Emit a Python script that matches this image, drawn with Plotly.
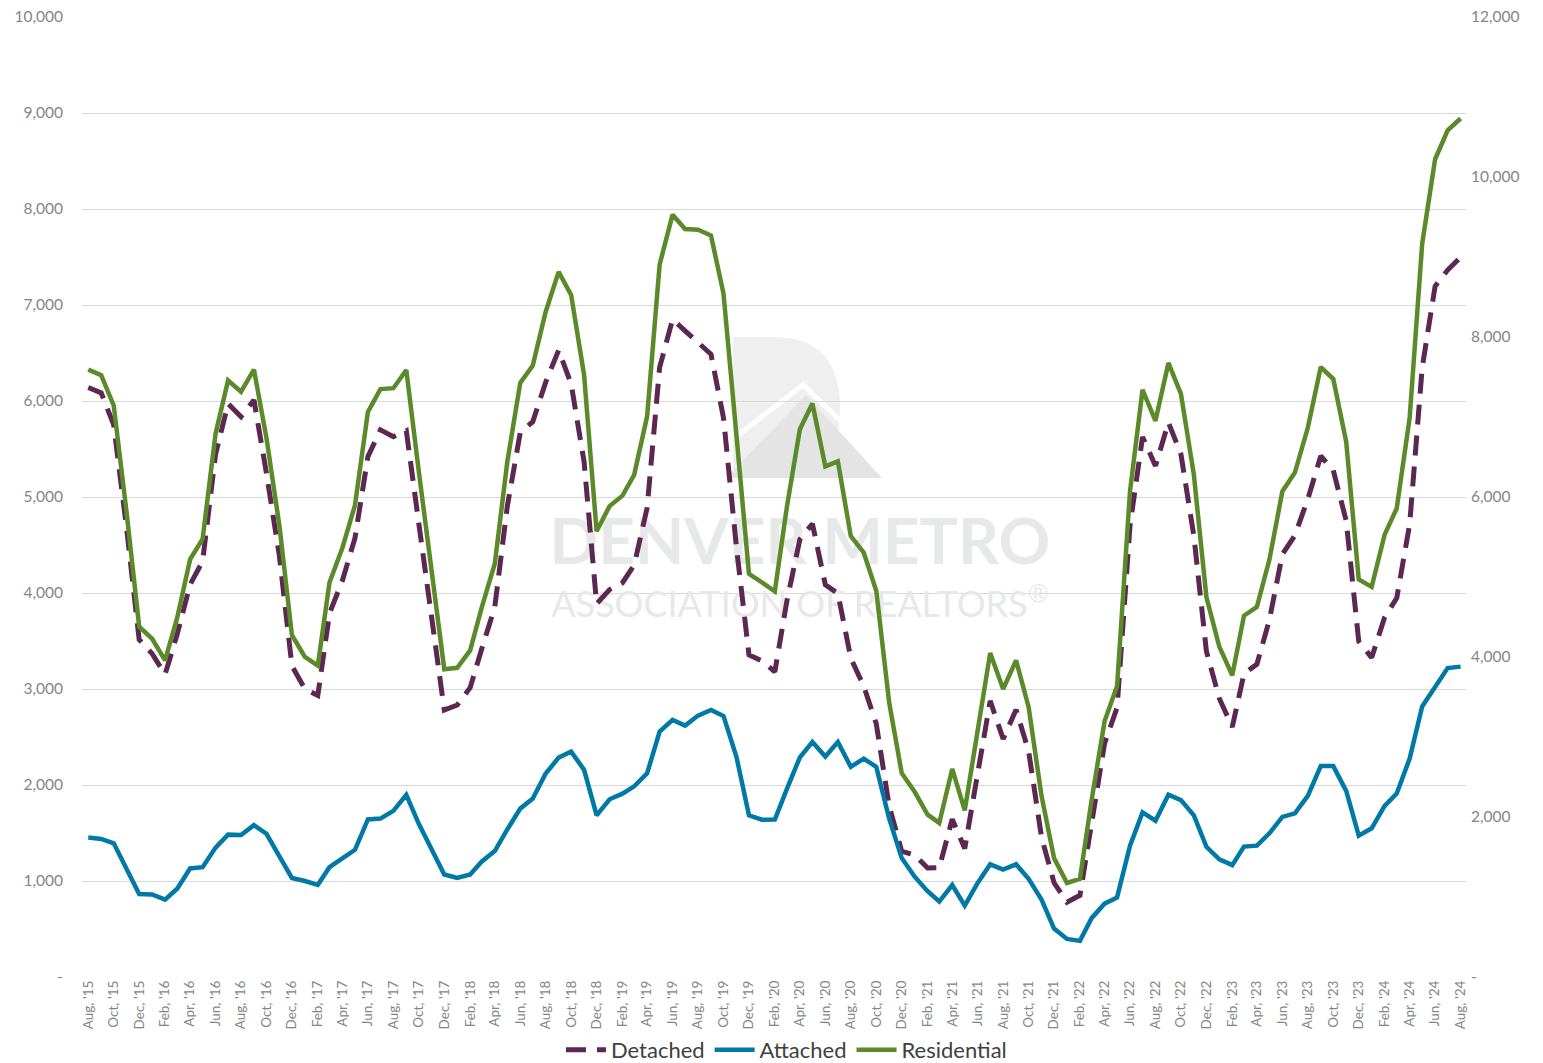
import pandas as pd
import plotly.graph_objects as go

months = pd.date_range("2015-08-01", periods=109, freq="MS")

detached = [6140, 6085, 5751, 4669, 3515, 3368, 3151, 3569, 4089, 4331, 5443, 5974, 5837,
            6010, 5245, 4383, 3240, 3001, 2933, 3788, 4131, 4572, 5421, 5699, 5629,
            5690, 4723, 3713, 2780, 2833, 3014, 3421, 3854, 4902, 5671, 5784, 6196,
            6529, 6178, 5366, 3887, 4035, 4107, 4291, 4886, 6350, 6851, 6731, 6617,
            6487, 5825, 4476, 3356, 3293, 3180, 3920, 4559, 4721, 4085, 3996, 3322,
            3029, 2639, 1780, 1309, 1270, 1136, 1140, 1643, 1339, 2120, 2876, 2480,
            2784, 2354, 1456, 981, 778, 851, 1599, 2432, 2807, 4703, 5626, 5324,
            5777, 5445, 4594, 3394, 2902, 2605, 3158, 3259, 3721, 4402, 4601, 4979,
            5427, 5278, 4753, 3497, 3327, 3747, 3946, 4715, 6346, 7196, 7364, 7498]

attached = [1452, 1438, 1393, 1131, 865, 860, 806, 919, 1131, 1144, 1348, 1483, 1479,
            1582, 1492, 1257, 1032, 1000, 960, 1144, 1235, 1325, 1641, 1650, 1731,
            1898, 1596, 1339, 1068, 1032, 1068, 1203, 1312, 1537, 1754, 1858, 2120,
            2285, 2348, 2158, 1684, 1851, 1910, 1986, 2122, 2556, 2678, 2619, 2723,
            2782, 2718, 2294, 1684, 1639, 1640, 1960, 2288, 2448, 2297, 2448, 2189,
            2275, 2189, 1649, 1239, 1045, 894, 786, 958, 743, 980, 1174, 1120,
            1174, 1023, 807, 505, 397, 376, 613, 764, 829, 1368, 1714, 1628,
            1899, 1843, 1684, 1356, 1226, 1165, 1358, 1368, 1497, 1668, 1705, 1886,
            2197, 2197, 1938, 1472, 1549, 1782, 1912, 2275, 2819, 3026, 3218, 3233]

residential = [7592, 7523, 7144, 5800, 4380, 4228, 3957, 4488, 5220, 5475, 6791, 7457, 7316,
               7592, 6737, 5640, 4272, 4001, 3893, 4932, 5366, 5897, 7062, 7349, 7360,
               7588, 6319, 5052, 3848, 3865, 4082, 4624, 5166, 6439, 7425, 7642, 8316,
               8814, 8526, 7524, 5571, 5886, 6017, 6277, 7008, 8906, 9529, 9350, 9340,
               9269, 8543, 6770, 5040, 4932, 4820, 5880, 6847, 7169, 6382, 6444, 5511,
               5304, 4828, 3429, 2548, 2315, 2030, 1926, 2601, 2082, 3100, 4050, 3600,
               3958, 3377, 2263, 1486, 1175, 1227, 2212, 3196, 3636, 6071, 7340, 6952,
               7676, 7288, 6278, 4750, 4128, 3770, 4516, 4627, 5218, 6070, 6306, 6865,
               7624, 7475, 6691, 4969, 4876, 5529, 5858, 6990, 9165, 10222, 10582, 10731]

left_ticks = [0, 1000, 2000, 3000, 4000, 5000, 6000, 7000, 8000, 9000, 10000]
left_labels = ["-", "1,000", "2,000", "3,000", "4,000", "5,000", "6,000", "7,000", "8,000", "9,000", "10,000"]
right_ticks = [0, 2000, 4000, 6000, 8000, 10000, 12000]
right_labels = ["-", "2,000", "4,000", "6,000", "8,000", "10,000", "12,000"]

C_DET = "#5C2751"
C_ATT = "#0079A6"
C_RES = "#5A8A29"
GRAY = "#858585"
WM = "#e7e8e8"

fig = go.Figure()

# watermark text (drawn beneath the series)
fig.add_trace(go.Scatter(
    x=["2020-04-01", "2020-04-01"], y=[4470, 3840], mode="text",
    text=["<b>DENVER METRO</b>", "ASSOCIATION OF REALTORS<sup>®</sup>"],
    textfont=dict(family="Lato", size=[64, 36], color=WM),
    showlegend=False, hoverinfo="skip"))

fig.add_trace(go.Scatter(x=months, y=detached, name="Detached", mode="lines",
                         line=dict(color=C_DET, width=5, dash="20px,11px")))
fig.add_trace(go.Scatter(x=months, y=attached, name="Attached", mode="lines",
                         line=dict(color=C_ATT, width=4.5)))
fig.add_trace(go.Scatter(x=months, y=residential, name="Residential", mode="lines",
                         line=dict(color=C_RES, width=4.5), yaxis="y2"))

OFF = 8  # page body margin
W, H = 1543 - OFF, 1063 - OFF
L, T = 82 - OFF, 17 - OFF
R = W - (1466 - OFF)
B = H - (977 - OFF)
pw, ph = W - L - R, H - T - B


def px(xp):
    return (xp - OFF - L) / pw


def py(yp):
    return (H - B - (yp - OFF)) / ph


d_path = (f"M {px(733)},{py(337)} L {px(775)},{py(337)} "
          f"Q {px(840)},{py(338)} {px(840)},{py(408)} "
          f"Q {px(840)},{py(476)} {px(775)},{py(478)} L {px(733)},{py(478)} Z")
mtn_path = f"M {px(726)},{py(478)} L {px(806)},{py(395)} L {px(882)},{py(478)} Z"
chev_path = f"M {px(738)},{py(435)} L {px(803)},{py(385)} L {px(840)},{py(420)}"

fig.update_layout(
    width=W, height=H,
    margin=dict(l=L, r=R, t=T, b=B, autoexpand=False),
    paper_bgcolor="white", plot_bgcolor="white",
    font=dict(family="Lato", color=GRAY),
    showlegend=True,
    legend=dict(orientation="h", x=0.509, xanchor="center", y=-0.054, yanchor="top",
                font=dict(size=22, color="#404040"), itemwidth=40,
                traceorder="normal"),
    xaxis=dict(type="date", range=["2015-07-17", "2024-08-14"],
               tick0="2015-08-01", dtick="M2", tickformat="%b, '%y",
               tickangle=-90, tickfont=dict(size=13.5, color=GRAY),
               showgrid=False, showline=False, zeroline=False, ticks=""),
    yaxis=dict(range=[0, 10000], tickvals=left_ticks, ticktext=left_labels,
               tickfont=dict(size=15.5, color=GRAY), showgrid=True,
               gridcolor="#d9d9d9", gridwidth=1, zeroline=False, showline=False,
               ticklabelstandoff=18, ticklabeloverflow="allow", fixedrange=True),
    yaxis2=dict(range=[0, 12000], tickvals=right_ticks, ticktext=right_labels,
                overlaying="y", side="right", showgrid=False, zeroline=False,
                tickfont=dict(size=15.5, color=GRAY), ticklabelstandoff=4,
                ticklabeloverflow="allow"),
    shapes=[
        dict(type="path", path=d_path, xref="paper", yref="paper",
             fillcolor="#efefef", line=dict(width=0), layer="below"),
        dict(type="path", path=mtn_path, xref="paper", yref="paper",
             fillcolor="#e4e4e4", line=dict(width=0), layer="below"),
        dict(type="path", path=chev_path, xref="paper", yref="paper",
             line=dict(color="white", width=5), layer="below"),
    ],
)

fig.write_html("out.html")
